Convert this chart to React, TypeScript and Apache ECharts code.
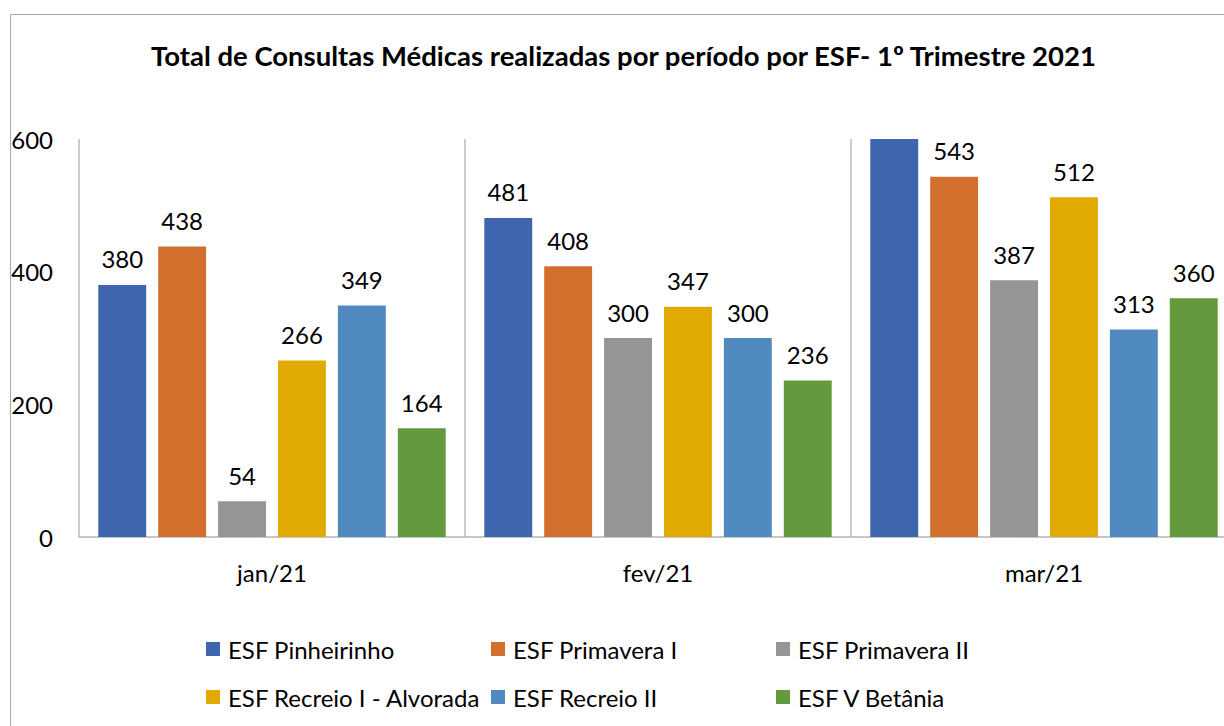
import React, { useEffect, useRef } from "react";
import * as echarts from "echarts";

const categories = ["jan/21", "fev/21", "mar/21"];
const seriesNames = [
  "ESF Pinheirinho",
  "ESF Primavera I",
  "ESF Primavera II",
  "ESF Recreio I - Alvorada",
  "ESF Recreio II",
  "ESF V Betânia",
];
const pinheirinho = [380, 481, 620];
const primaveraI = [438, 408, 543];
const primaveraII = [54, 300, 387];
const recreioIAlvorada = [266, 347, 512];
const recreioII = [349, 300, 313];
const vBetania = [164, 236, 360];
const yTicks = [0, 200, 400, 600];
const colors = ["#3E65AE", "#D36F2C", "#959595", "#E1AA02", "#508AC0", "#639A3E"];

const FONT = "Lato";

export default function App() {
  const ref = useRef<HTMLDivElement>(null);
  useEffect(() => {
    if (!ref.current) return;
    const chart = echarts.init(ref.current, null, { renderer: "svg" });
    const values = [pinheirinho, primaveraI, primaveraII, recreioIAlvorada, recreioII, vBetania];
    const yMax = yTicks[yTicks.length - 1];
    const legendPos = [
      [206, 637],
      [491, 637],
      [776, 637],
      [206, 685],
      [491, 685],
      [776, 685],
    ];
    chart.setOption({
      animation: false,
      textStyle: { fontFamily: FONT },
      title: {
        text: "Total de Consultas Médicas realizadas por período por ESF- 1º Trimestre 2021",
        left: 146,
        top: 36,
        textStyle: { fontFamily: FONT, fontSize: 27.5, fontWeight: "bold", color: "#000" },
      },
      graphic: [
        {
          type: "rect",
          shape: { x: 10.5, y: 14.5, width: 1400, height: 900 },
          style: { fill: "none", stroke: "#A9A9A9", lineWidth: 1 },
          silent: true,
        },
      ],
      legend: seriesNames.map((n, i) => ({
        data: [n],
        left: legendPos[i][0],
        top: legendPos[i][1],
        padding: 0,
        icon: "rect",
        itemWidth: 14,
        itemHeight: 14,
        textStyle: { fontFamily: FONT, fontSize: 24, color: "#000", padding: [0, 0, 0, 3] },
      })),
      grid: { left: 79, right: 3, top: 139, bottom: 189, containLabel: false },
      xAxis: {
        type: "category",
        data: categories,
        axisLine: { lineStyle: { color: "#B4B4B4", width: 1.5 } },
        axisTick: { show: false },
        axisLabel: { fontFamily: FONT, fontSize: 24, color: "#000", margin: 23 },
        splitLine: { show: true, lineStyle: { color: "#BDBDBD", width: 1.5 } },
      },
      yAxis: {
        type: "value",
        min: 0,
        max: yMax,
        interval: 200,
        axisLine: { show: false },
        axisTick: { show: false },
        splitLine: { show: false },
        axisLabel: { fontFamily: FONT, fontSize: 24, color: "#000", margin: 26 },
      },
      series: seriesNames.map((n, i) => ({
        name: n,
        type: "bar",
        barGap: "25%",
        barCategoryGap: "10%",
        itemStyle: { color: colors[i] },
        label: {
          show: true,
          position: "top",
          distance: 14,
          fontFamily: FONT,
          fontSize: 24,
          color: "#000",
        },
        data: values[i].map((v) => (v > yMax ? { value: v, label: { show: false } } : v)),
      })),
    });
    return () => chart.dispose();
  }, []);
  return (
    <div
      ref={ref}
      style={{ position: "fixed", left: 0, top: 0, width: 1240, height: 726, background: "#fff" }}
    />
  );
}
